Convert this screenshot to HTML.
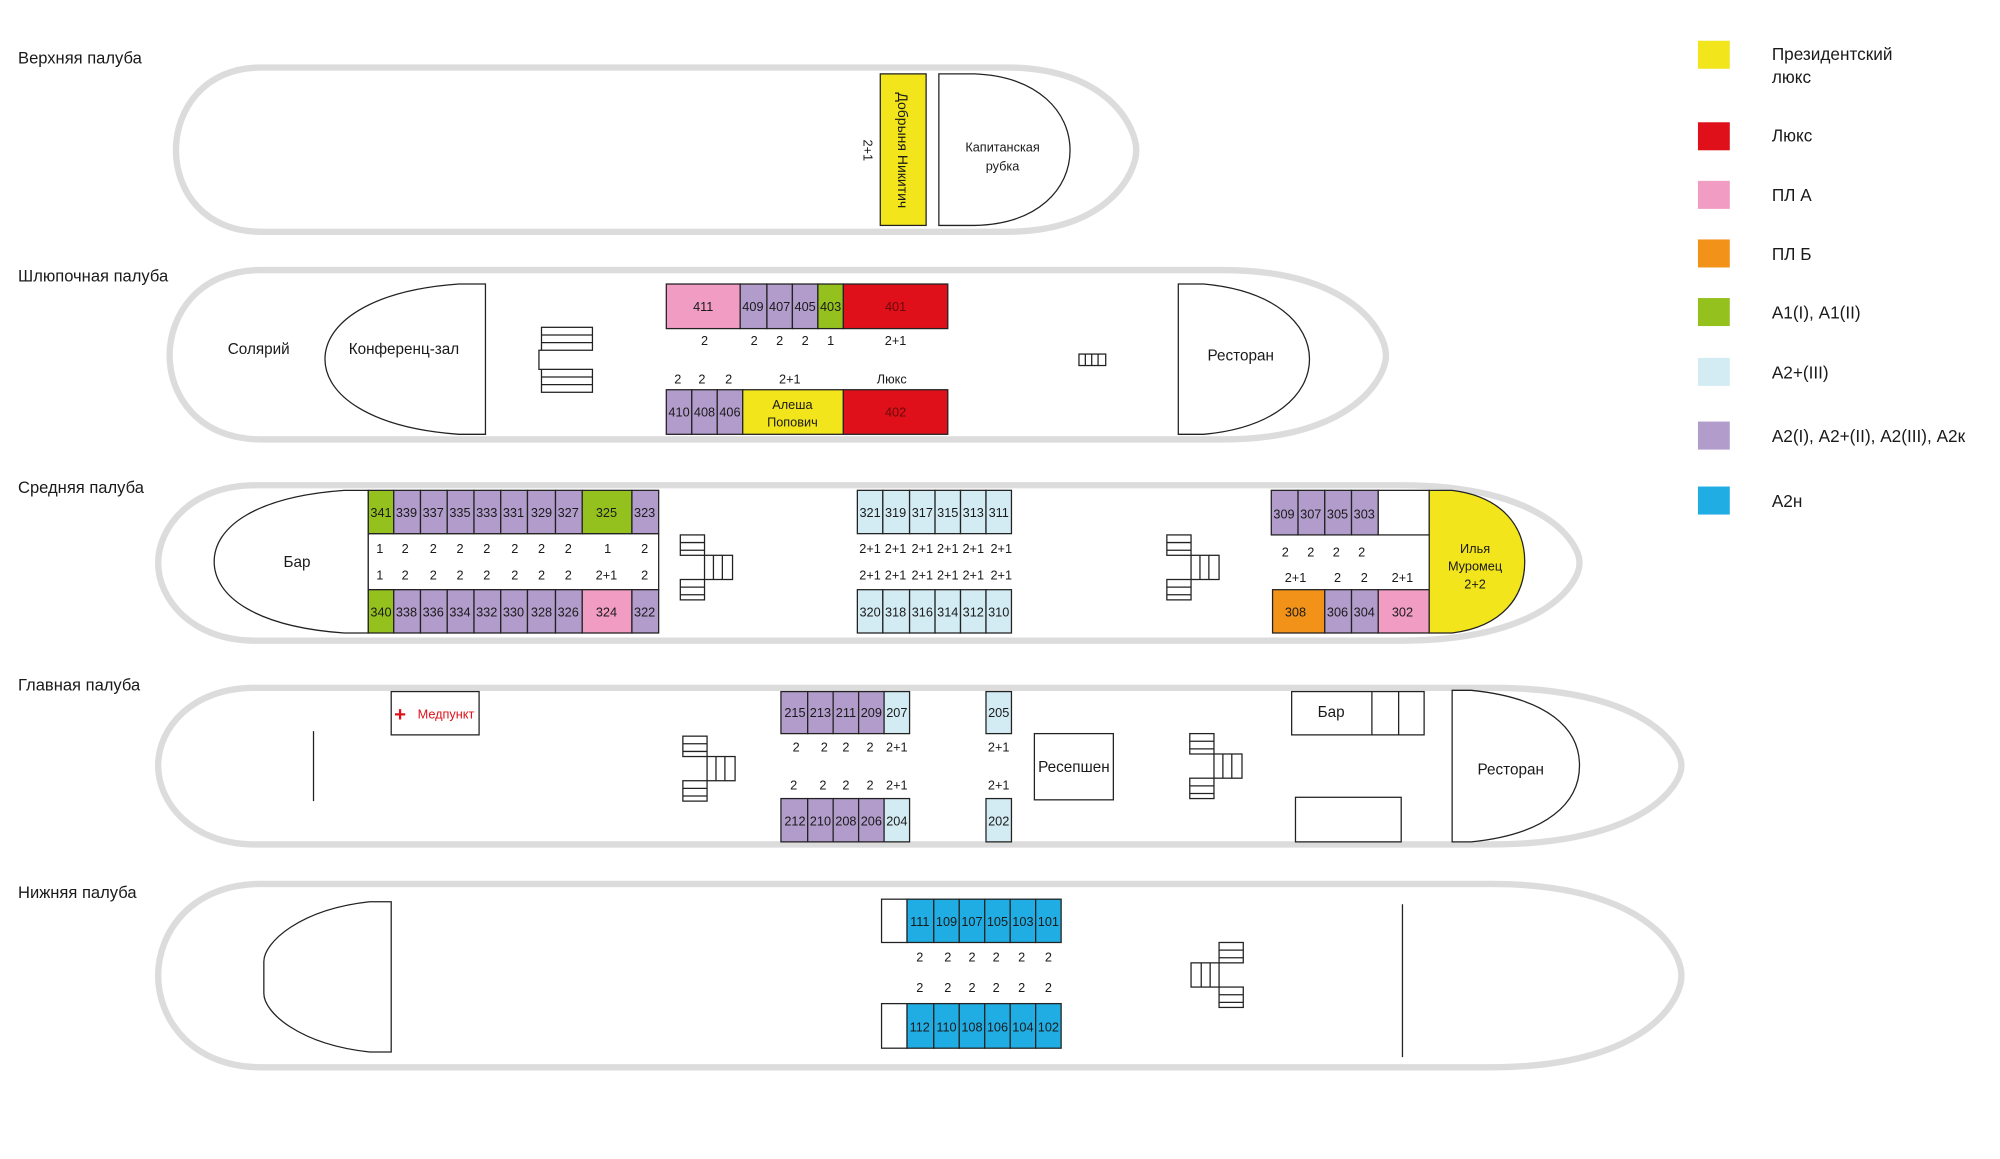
<!DOCTYPE html>
<html><head><meta charset="utf-8"><style>
html,body{margin:0;padding:0;background:#fff;}
svg{display:block;}
text{font-family:"Liberation Sans",sans-serif;}
</style></head><body>
<svg width="2000" height="1159" viewBox="0 0 1570 910" xmlns="http://www.w3.org/2000/svg">
<defs>
<g id="st" fill="#fff" stroke="#222" stroke-width="1">
<rect x="0" y="0" width="19" height="16"/><line x1="0" y1="6" x2="19" y2="6"/><line x1="0" y1="12" x2="19" y2="12"/>
<rect x="19" y="16" width="22" height="19"/><line x1="26" y1="16" x2="26" y2="35"/><line x1="33" y1="16" x2="33" y2="35"/>
<rect x="0" y="35" width="19" height="16"/><line x1="0" y1="41" x2="19" y2="41"/><line x1="0" y1="47" x2="19" y2="47"/>
</g>
</defs>
<g fill="none" stroke="#dcdcdc" stroke-width="5">
<path d="M205 53 L790 53 C870 53 892 100 892 118 C892 136 870 182 790 182 L205 182 C160 182 138 150 138 118 C138 86 160 53 205 53 Z"/>
<path d="M205 212 L960 212 C1060 212 1088 260 1088 279 C1088 298 1060 345 960 345 L205 345 C155 345 133 310 133 279 C133 248 155 212 205 212 Z"/>
<path d="M200 381 L1100 381 C1210 381 1240 425 1240 442 C1240 459 1210 503 1100 503 L200 503 C150 503 124 470 124 442 C124 414 150 381 200 381 Z"/>
<path d="M200 540 L1170 540 C1290 540 1320 585 1320 601 C1320 617 1290 663 1170 663 L200 663 C150 663 124 630 124 601 C124 572 150 540 200 540 Z"/>
<path d="M205 694 L1170 694 C1290 694 1320 745 1320 766 C1320 787 1290 838 1170 838 L205 838 C150 838 124 800 124 766 C124 732 150 694 205 694 Z"/>
</g>
<g font-size="13" fill="#1a1a1a">
<text x="14" y="50">Верхняя палуба</text>
<text x="14" y="221">Шлюпочная палуба</text>
<text x="14" y="387">Средняя палуба</text>
<text x="14" y="542">Главная палуба</text>
<text x="14" y="705">Нижняя палуба</text>
</g>
<g stroke="none">
<rect x="1333" y="32" width="25" height="22" fill="#f2e51c"/>
<rect x="1333" y="96" width="25" height="22" fill="#e0101a"/>
<rect x="1333" y="142" width="25" height="22" fill="#f09cc3"/>
<rect x="1333" y="188" width="25" height="22" fill="#f29219"/>
<rect x="1333" y="234" width="25" height="22" fill="#95c11f"/>
<rect x="1333" y="281" width="25" height="22" fill="#d3ebf3"/>
<rect x="1333" y="331" width="25" height="22" fill="#b29ccb"/>
<rect x="1333" y="382" width="25" height="22" fill="#1fade4"/>
</g>
<g font-size="13.5" fill="#1a1a1a">
<text x="1391" y="47">Президентский</text><text x="1391" y="65">люкс</text>
<text x="1391" y="111">Люкс</text><text x="1391" y="158">ПЛ А</text><text x="1391" y="204">ПЛ Б</text>
<text x="1391" y="250">А1(I), А1(II)</text><text x="1391" y="297">А2+(III)</text>
<text x="1391" y="347">А2(I), А2+(II), А2(III), А2к</text><text x="1391" y="398">А2н</text>
</g>
<g stroke="#222" stroke-width="1" font-size="10" text-anchor="middle" fill="#1a1a1a">
<!-- upper deck -->
<rect x="691" y="58" width="36" height="119" fill="#f2e51c"/>
<text transform="translate(705,118) rotate(90)" font-size="11" stroke="none">Добрыня Никитич</text>
<text transform="translate(678,118) rotate(90)" stroke="none">2+1</text>
<path d="M737 58 L765 58 C815 60 840 88 840 118 C840 148 815 176 765 177 L737 177 Z" fill="#fff"/>
<text x="787" y="119" stroke="none">Капитанская</text><text x="787" y="134" stroke="none">рубка</text>
<!-- boat deck -->
<rect x="523" y="223" width="58" height="35" fill="#f09cc3"/>
<rect x="581" y="223" width="21" height="35" fill="#b29ccb"/><rect x="602" y="223" width="20" height="35" fill="#b29ccb"/><rect x="622" y="223" width="20" height="35" fill="#b29ccb"/>
<rect x="642" y="223" width="20" height="35" fill="#95c11f"/><rect x="662" y="223" width="82" height="35" fill="#e0101a"/>
<rect x="523" y="306" width="20" height="35" fill="#b29ccb"/><rect x="543" y="306" width="20" height="35" fill="#b29ccb"/><rect x="563" y="306" width="20" height="35" fill="#b29ccb"/>
<rect x="583" y="306" width="79" height="35" fill="#f2e51c"/><rect x="662" y="306" width="82" height="35" fill="#e0101a"/>
<path d="M381 223 L381 341 L360 341 C290 336 255 310 255 282 C255 254 290 228 360 223 Z" fill="#fff"/>
<path d="M925 223 L925 341 L945 341 C1000 336 1028 310 1028 282 C1028 254 1000 228 945 223 Z" fill="#fff"/>
<g stroke="none">
<text x="552" y="244">411</text><text x="591" y="244">409</text><text x="612" y="244">407</text><text x="632" y="244">405</text><text x="652" y="244">403</text><text x="703" y="244" fill="#6a0a0a">401</text>
<text x="533" y="327">410</text><text x="553" y="327">408</text><text x="573" y="327">406</text><text x="622" y="321">Алеша</text><text x="622" y="335">Попович</text><text x="703" y="327" fill="#6a0a0a">402</text>
<text x="553" y="271">2</text><text x="592" y="271">2</text><text x="612" y="271">2</text><text x="632" y="271">2</text><text x="652" y="271">1</text><text x="703" y="271">2+1</text>
<text x="532" y="301">2</text><text x="551" y="301">2</text><text x="572" y="301">2</text><text x="620" y="301">2+1</text><text x="700" y="301">Люкс</text>
<text x="203" y="278" font-size="12">Солярий</text><text x="317" y="278" font-size="12">Конференц-зал</text><text x="974" y="283" font-size="12">Ресторан</text>
</g>
<g fill="#fff"><rect x="425" y="257" width="40" height="18"/><line x1="425" y1="263" x2="465" y2="263"/><line x1="425" y1="269" x2="465" y2="269"/>
<rect x="425" y="290" width="40" height="18"/><line x1="425" y1="296" x2="465" y2="296"/><line x1="425" y1="302" x2="465" y2="302"/>
<path d="M425 275 L423 275 L423 290 L425 290"/>
<rect x="847" y="278" width="21" height="9"/><line x1="852" y1="278" x2="852" y2="287"/><line x1="857" y1="278" x2="857" y2="287"/><line x1="862" y1="278" x2="862" y2="287"/></g>
<!-- middle deck -->
<path d="M289 385 L289 497 L270 497 C200 492 168 468 168 441 C168 414 200 390 270 385 Z" fill="#fff"/>
<text x="233" y="445" stroke="none" font-size="12">Бар</text>
<rect x="289" y="419" width="228" height="44" fill="#fff"/>
<g>
<rect x="289" y="385" width="20" height="34" fill="#95c11f"/><rect x="309" y="385" width="21" height="34" fill="#b29ccb"/><rect x="330" y="385" width="21" height="34" fill="#b29ccb"/><rect x="351" y="385" width="21" height="34" fill="#b29ccb"/><rect x="372" y="385" width="21" height="34" fill="#b29ccb"/><rect x="393" y="385" width="21" height="34" fill="#b29ccb"/><rect x="414" y="385" width="22" height="34" fill="#b29ccb"/><rect x="436" y="385" width="21" height="34" fill="#b29ccb"/><rect x="457" y="385" width="39" height="34" fill="#95c11f"/><rect x="496" y="385" width="21" height="34" fill="#b29ccb"/>
<rect x="289" y="463" width="20" height="34" fill="#95c11f"/><rect x="309" y="463" width="21" height="34" fill="#b29ccb"/><rect x="330" y="463" width="21" height="34" fill="#b29ccb"/><rect x="351" y="463" width="21" height="34" fill="#b29ccb"/><rect x="372" y="463" width="21" height="34" fill="#b29ccb"/><rect x="393" y="463" width="21" height="34" fill="#b29ccb"/><rect x="414" y="463" width="22" height="34" fill="#b29ccb"/><rect x="436" y="463" width="21" height="34" fill="#b29ccb"/><rect x="457" y="463" width="39" height="34" fill="#f09cc3"/><rect x="496" y="463" width="21" height="34" fill="#b29ccb"/>
</g>
<g stroke="none">
<text x="299" y="406">341</text><text x="319" y="406">339</text><text x="340" y="406">337</text><text x="361" y="406">335</text><text x="382" y="406">333</text><text x="403" y="406">331</text><text x="425" y="406">329</text><text x="446" y="406">327</text><text x="476" y="406">325</text><text x="506" y="406">323</text>
<text x="299" y="484">340</text><text x="319" y="484">338</text><text x="340" y="484">336</text><text x="361" y="484">334</text><text x="382" y="484">332</text><text x="403" y="484">330</text><text x="425" y="484">328</text><text x="446" y="484">326</text><text x="476" y="484">324</text><text x="506" y="484">322</text>
<text x="298" y="434">1</text><text x="318" y="434">2</text><text x="340" y="434">2</text><text x="361" y="434">2</text><text x="382" y="434">2</text><text x="404" y="434">2</text><text x="425" y="434">2</text><text x="446" y="434">2</text><text x="477" y="434">1</text><text x="506" y="434">2</text>
<text x="298" y="455">1</text><text x="318" y="455">2</text><text x="340" y="455">2</text><text x="361" y="455">2</text><text x="382" y="455">2</text><text x="404" y="455">2</text><text x="425" y="455">2</text><text x="446" y="455">2</text><text x="476" y="455">2+1</text><text x="506" y="455">2</text>
</g>
<g fill="#d3ebf3">
<rect x="673" y="385" width="20" height="34"/><rect x="693" y="385" width="21" height="34"/><rect x="714" y="385" width="20" height="34"/><rect x="734" y="385" width="20" height="34"/><rect x="754" y="385" width="20" height="34"/><rect x="774" y="385" width="20" height="34"/>
<rect x="673" y="463" width="20" height="34"/><rect x="693" y="463" width="21" height="34"/><rect x="714" y="463" width="20" height="34"/><rect x="734" y="463" width="20" height="34"/><rect x="754" y="463" width="20" height="34"/><rect x="774" y="463" width="20" height="34"/>
</g>
<g stroke="none">
<text x="683" y="406">321</text><text x="703" y="406">319</text><text x="724" y="406">317</text><text x="744" y="406">315</text><text x="764" y="406">313</text><text x="784" y="406">311</text>
<text x="683" y="484">320</text><text x="703" y="484">318</text><text x="724" y="484">316</text><text x="744" y="484">314</text><text x="764" y="484">312</text><text x="784" y="484">310</text>
<text x="683" y="434">2+1</text><text x="703" y="434">2+1</text><text x="724" y="434">2+1</text><text x="744" y="434">2+1</text><text x="764" y="434">2+1</text><text x="786" y="434">2+1</text>
<text x="683" y="455">2+1</text><text x="703" y="455">2+1</text><text x="724" y="455">2+1</text><text x="744" y="455">2+1</text><text x="764" y="455">2+1</text><text x="786" y="455">2+1</text>
</g>
<use href="#st" x="534" y="420"/><use href="#st" x="916" y="420"/>
<rect x="998" y="385" width="21" height="35" fill="#b29ccb"/><rect x="1019" y="385" width="21" height="35" fill="#b29ccb"/><rect x="1040" y="385" width="21" height="35" fill="#b29ccb"/><rect x="1061" y="385" width="21" height="35" fill="#b29ccb"/><rect x="1082" y="385" width="40" height="35" fill="#fff"/>
<rect x="999" y="463" width="41" height="34" fill="#f29219"/><rect x="1040" y="463" width="21" height="34" fill="#b29ccb"/><rect x="1061" y="463" width="21" height="34" fill="#b29ccb"/><rect x="1082" y="463" width="40" height="34" fill="#f09cc3"/>
<path d="M1122 385 L1122 497 L1140 497 C1180 492 1197 468 1197 441 C1197 414 1180 390 1140 385 Z" fill="#f2e51c"/>
<g stroke="none">
<text x="1008" y="407">309</text><text x="1029" y="407">307</text><text x="1050" y="407">305</text><text x="1071" y="407">303</text>
<text x="1017" y="484">308</text><text x="1050" y="484">306</text><text x="1071" y="484">304</text><text x="1101" y="484">302</text>
<text x="1009" y="437">2</text><text x="1029" y="437">2</text><text x="1049" y="437">2</text><text x="1069" y="437">2</text>
<text x="1017" y="457">2+1</text><text x="1050" y="457">2</text><text x="1071" y="457">2</text><text x="1101" y="457">2+1</text>
<text x="1158" y="434">Илья</text><text x="1158" y="448">Муромец</text><text x="1158" y="462">2+2</text>
</g>
<!-- main deck -->
<rect x="307" y="543" width="69" height="34" fill="#fff"/>
<text x="350" y="564" stroke="none" fill="#e0101a">Медпункт</text>
<text x="314" y="566" stroke="none" fill="#e0101a" font-size="16" font-weight="bold">+</text>
<line x1="246" y1="574" x2="246" y2="629"/>
<use href="#st" x="536" y="578"/>
<g fill="#b29ccb"><rect x="613" y="543" width="21" height="33"/><rect x="634" y="543" width="20" height="33"/><rect x="654" y="543" width="20" height="33"/><rect x="674" y="543" width="20" height="33"/>
<rect x="613" y="627" width="21" height="34"/><rect x="634" y="627" width="20" height="34"/><rect x="654" y="627" width="20" height="34"/><rect x="674" y="627" width="20" height="34"/></g>
<g fill="#d3ebf3"><rect x="694" y="543" width="20" height="33"/><rect x="694" y="627" width="20" height="34"/><rect x="774" y="543" width="20" height="33"/><rect x="774" y="627" width="20" height="34"/></g>
<g stroke="none">
<text x="624" y="563">215</text><text x="644" y="563">213</text><text x="664" y="563">211</text><text x="684" y="563">209</text><text x="704" y="563">207</text><text x="784" y="563">205</text>
<text x="624" y="648">212</text><text x="644" y="648">210</text><text x="664" y="648">208</text><text x="684" y="648">206</text><text x="704" y="648">204</text><text x="784" y="648">202</text>
<text x="625" y="590">2</text><text x="647" y="590">2</text><text x="664" y="590">2</text><text x="683" y="590">2</text><text x="704" y="590">2+1</text><text x="784" y="590">2+1</text>
<text x="623" y="620">2</text><text x="646" y="620">2</text><text x="664" y="620">2</text><text x="683" y="620">2</text><text x="704" y="620">2+1</text><text x="784" y="620">2+1</text>
</g>
<rect x="812" y="576" width="62" height="52" fill="#fff"/>
<text x="843" y="606" stroke="none" font-size="12">Ресепшен</text>
<use href="#st" x="934" y="576"/>
<rect x="1014" y="543" width="104" height="34" fill="#fff"/><line x1="1077" y1="543" x2="1077" y2="577"/><line x1="1098" y1="543" x2="1098" y2="577"/>
<text x="1045" y="563" stroke="none" font-size="12">Бар</text>
<rect x="1017" y="626" width="83" height="35" fill="#fff"/>
<path d="M1140 542 L1140 661 L1155 661 C1215 655 1240 630 1240 601 C1240 572 1215 548 1155 542 Z" fill="#fff"/>
<text x="1186" y="608" stroke="none" font-size="12">Ресторан</text>
<!-- lower deck -->
<path d="M307 708 L307 826 L290 826 C235 820 207 795 207 780 L207 755 C207 740 235 714 290 708 Z" fill="#fff"/>
<line x1="1101" y1="710" x2="1101" y2="830"/>
<rect x="692" y="706" width="20" height="34" fill="#fff"/><rect x="692" y="788" width="20" height="35" fill="#fff"/>
<g fill="#1fade4">
<rect x="712" y="706" width="21" height="34"/><rect x="733" y="706" width="20" height="34"/><rect x="753" y="706" width="20" height="34"/><rect x="773" y="706" width="20" height="34"/><rect x="793" y="706" width="20" height="34"/><rect x="813" y="706" width="20" height="34"/>
<rect x="712" y="788" width="21" height="35"/><rect x="733" y="788" width="20" height="35"/><rect x="753" y="788" width="20" height="35"/><rect x="773" y="788" width="20" height="35"/><rect x="793" y="788" width="20" height="35"/><rect x="813" y="788" width="20" height="35"/>
</g>
<g stroke="none">
<text x="722" y="727">111</text><text x="743" y="727">109</text><text x="763" y="727">107</text><text x="783" y="727">105</text><text x="803" y="727">103</text><text x="823" y="727">101</text>
<text x="722" y="810">112</text><text x="743" y="810">110</text><text x="763" y="810">108</text><text x="783" y="810">106</text><text x="803" y="810">104</text><text x="823" y="810">102</text>
<text x="722" y="755">2</text><text x="744" y="755">2</text><text x="763" y="755">2</text><text x="782" y="755">2</text><text x="802" y="755">2</text><text x="823" y="755">2</text>
<text x="722" y="779">2</text><text x="744" y="779">2</text><text x="763" y="779">2</text><text x="782" y="779">2</text><text x="802" y="779">2</text><text x="823" y="779">2</text>
</g>
<use href="#st" transform="translate(976,740) scale(-1,1)"/>
</g>
</svg>
</body></html>
